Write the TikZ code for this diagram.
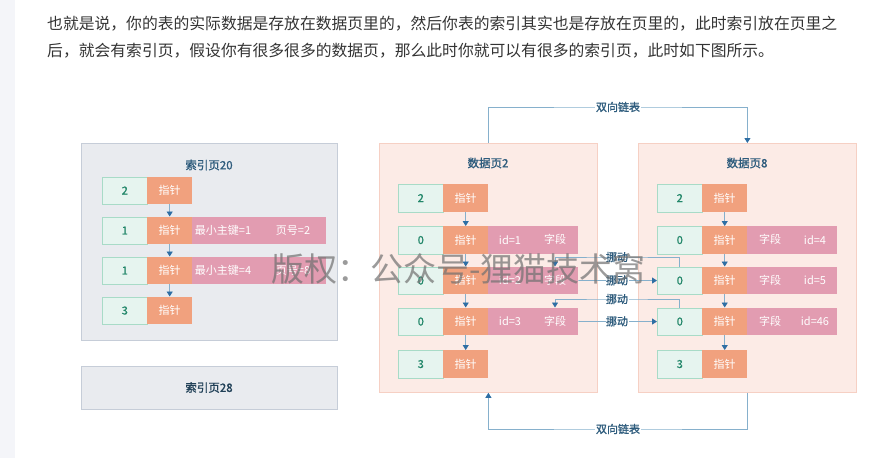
\documentclass[tikz,border=0pt]{standalone}
\usepackage{fontspec}
\setmainfont{Noto Sans CJK SC}
\newfontfamily\cjkb[FakeBold=1.2]{Noto Sans CJK SC}
\usetikzlibrary{arrows.meta}
\definecolor{stripc}{HTML}{F4F5F9}
\definecolor{bodytext}{HTML}{333333}
\definecolor{panelfill}{HTML}{E9EBEF}
\definecolor{panelborder}{HTML}{C6CDD8}
\definecolor{pagefill}{HTML}{FCEBE6}
\definecolor{pageborder}{HTML}{F6D0C4}
\definecolor{gfill}{HTML}{E6F4EF}
\definecolor{gborder}{HTML}{A8DBC7}
\definecolor{gtext}{HTML}{23876A}
\definecolor{ofill}{HTML}{F1A17E}
\definecolor{pfill}{HTML}{E29CB1}
\definecolor{titlec}{HTML}{2D5B7C}
\definecolor{linec}{HTML}{86B0CC}
\definecolor{headc}{HTML}{2E6EA4}
\definecolor{wmc}{HTML}{707070}
\begin{document}
\begin{tikzpicture}[x=1pt,y=-1pt,
  bodyline/.style={anchor=west, inner sep=0, text=bodytext, font=\fontsize{15.8}{16}\selectfont},
  panel/.style={draw=panelborder, fill=panelfill, line width=0.8pt, anchor=north west, inner sep=0},
  pagebox/.style={draw=pageborder, fill=pagefill, line width=0.8pt, anchor=north west, inner sep=0, minimum width=218pt, minimum height=249pt},
  titletext/.style={inner sep=0, text=titlec, font=\cjkb\fontsize{11.5}{12}\selectfont},
  gcell/.style={draw=gborder, fill=gfill, text=gtext, line width=0.6pt, anchor=north west, inner sep=0, minimum width=45pt, minimum height=27.5pt, font=\cjkb\fontsize{11}{11}\selectfont},
  ocell/.style={fill=ofill, text=white, anchor=north west, inner sep=0, minimum width=45pt, minimum height=27.5pt, font=\fontsize{11}{11}\selectfont},
  pcell/.style={fill=pfill, anchor=north west, inner sep=0, minimum height=27.5pt},
  ptext/.style={inner sep=0, text=white, font=\fontsize{11}{11}\selectfont},
  cellarrow/.style={draw=linec, line width=0.8pt, -{Triangle[width=6pt,length=5pt,fill=headc,color=headc]}},
  link/.style={draw=linec, line width=0.9pt, -{Triangle[width=6pt,length=5pt,fill=headc,color=headc]}},
  linklabel/.style={inner sep=1pt, fill=white, text=titlec, font=\cjkb\fontsize{11}{11}\selectfont},
  movelabel/.style={inner sep=0.5pt, fill=white, text=titlec, font=\cjkb\fontsize{11}{11}\selectfont},
]
\useasboundingbox (0,0) rectangle (888,458);
\fill[stripc] (0,0) rectangle (15,458);

% body text
\node[bodyline] (t1) at (47,24) {也就是说，你的表的实际数据是存放在数据页里的，然后你表的索引其实也是存放在页里的，此时索引放在页里之};
\node[bodyline] (t2) at (47,51) {后，就会有索引页，假设你有很多很多的数据页，那么此时你就可以有很多的索引页，此时如下图所示。};

% ---------- index page 20 ----------
\node[panel, minimum width=256pt, minimum height=197pt] (ip20) at (81,143) {};
\node[titletext] (ip20t) at (209,165) {索引页20};
% rows
\node[gcell] (a1g) at (102,176.5) {2};
\node[ocell] (a1o) at (147,176.5) {指针};
\node[gcell] (a2g) at (102,216.5) {1};
\node[ocell] (a2o) at (147,216.5) {指针};
\node[pcell, minimum width=134pt] (a2p) at (192,216.5) {};
\node[ptext] (a2x) at (223,230.25) {最小主键=1};
\node[ptext] (a2y) at (293,230.25) {页号=2};
\node[gcell] (a3g) at (102,256.5) {1};
\node[ocell] (a3o) at (147,256.5) {指针};
\node[pcell, minimum width=134pt] (a3p) at (192,256.5) {};
\node[ptext] (a3x) at (223,270.25) {最小主键=4};
\node[ptext] (a3y) at (293,270.25) {页号=8};
\node[gcell] (a4g) at (102,296.5) {3};
\node[ocell] (a4o) at (147,296.5) {指针};
\draw[cellarrow] (a1o.south) -- (a2o.north);
\draw[cellarrow] (a2o.south) -- (a3o.north);
\draw[cellarrow] (a3o.south) -- (a4o.north);

% ---------- index page 28 ----------
\node[panel, minimum width=256pt, minimum height=43pt] (ip28) at (81,366) {};
\node[inner sep=0, text=titlec!70!black, font=\cjkb\fontsize{11.5}{12}\selectfont] (ip28t) at (209,387.5) {索引页28};

% ---------- data page 2 ----------
\node[pagebox] (d2) at (379,143) {};
\node[titletext] (d2t) at (488,163) {数据页2};
\node[gcell] (b1g) at (398,184) {2};
\node[ocell] (b1o) at (443,184) {指针};
\node[gcell] (b2g) at (398,226) {0};
\node[ocell] (b2o) at (443,226) {指针};
\node[pcell, minimum width=90pt] (b2p) at (488,226) {};
\node[ptext] (b2x) at (510,239.75) {id=1};
\node[ptext] (b2y) at (555,239.75) {字段};
\node[gcell] (b3g) at (398,266.5) {0};
\node[ocell] (b3o) at (443,266.5) {指针};
\node[pcell, minimum width=90pt] (b3p) at (488,266.5) {};
\node[ptext] (b3x) at (510,280.25) {id=2};
\node[ptext] (b3y) at (555,280.25) {字段};
\node[gcell] (b4g) at (398,307.5) {0};
\node[ocell] (b4o) at (443,307.5) {指针};
\node[pcell, minimum width=90pt] (b4p) at (488,307.5) {};
\node[ptext] (b4x) at (510,321.25) {id=3};
\node[ptext] (b4y) at (555,321.25) {字段};
\node[gcell] (b5g) at (398,350) {3};
\node[ocell] (b5o) at (443,350) {指针};
\draw[cellarrow] (b1o.south) -- (b2o.north);
\draw[cellarrow] (b2o.south) -- (b3o.north);
\draw[cellarrow] (b3o.south) -- (b4o.north);
\draw[cellarrow] (b4o.south) -- (b5o.north);

% ---------- data page 8 ----------
\node[pagebox] (d8) at (638,143) {};
\node[titletext] (d8t) at (747,163) {数据页8};
\node[gcell] (c1g) at (657,184) {2};
\node[ocell] (c1o) at (702,184) {指针};
\node[gcell] (c2g) at (657,226) {0};
\node[ocell] (c2o) at (702,226) {指针};
\node[pcell, minimum width=90pt] (c2p) at (747,226) {};
\node[ptext] (c2x) at (770,239.75) {字段};
\node[ptext] (c2y) at (815,239.75) {id=4};
\node[gcell] (c3g) at (657,266.5) {0};
\node[ocell] (c3o) at (702,266.5) {指针};
\node[pcell, minimum width=90pt] (c3p) at (747,266.5) {};
\node[ptext] (c3x) at (770,280.25) {字段};
\node[ptext] (c3y) at (815,280.25) {id=5};
\node[gcell] (c4g) at (657,307.5) {0};
\node[ocell] (c4o) at (702,307.5) {指针};
\node[pcell, minimum width=90pt] (c4p) at (747,307.5) {};
\node[ptext] (c4x) at (770,321.25) {字段};
\node[ptext] (c4y) at (815,321.25) {id=46};
\node[gcell] (c5g) at (657,350) {3};
\node[ocell] (c5o) at (702,350) {指针};
\draw[cellarrow] (c1o.south) -- (c2o.north);
\draw[cellarrow] (c2o.south) -- (c3o.north);
\draw[cellarrow] (c3o.south) -- (c4o.north);
\draw[cellarrow] (c4o.south) -- (c5o.north);

% ---------- move arrows ----------
\coordinate (mv1) at (617,257);
\coordinate (mv3) at (617,299);
\draw[link] (c3g.north) |- (mv1) -| (b3y.north |- b3p.north);
\draw[link] (b3p.east) -- (c3g.west);
\draw[link] (c4g.north) |- (mv3) -| (b4y.north |- b4p.north);
\draw[link] (b4p.east) -- (c4g.west);
\node[movelabel] (m1) at (mv1) {挪动};
\node[movelabel] (m2) at (617,280.25) {挪动};
\node[movelabel] (m3) at (mv3) {挪动};
\node[movelabel] (m4) at (617,321.25) {挪动};

% ---------- doubly linked list ----------
\coordinate (lk1) at (618,107);
\coordinate (lk2) at (618,429);
\draw[link] (d2.north) |- (lk1) -| (d8.north);
\draw[link] (d8.south) |- (lk2) -| (d2.south);
\node[linklabel] (lk1t) at (lk1) {双向链表};
\node[linklabel] (lk2t) at (lk2) {双向链表};

% ---------- watermark ----------
\node[inner sep=0, text=wmc, opacity=0.7, font=\fontsize{33}{33}\selectfont] (wm) at (458.5,269) {版权：公众号-狸猫技术窝};
\end{tikzpicture}
\end{document}
